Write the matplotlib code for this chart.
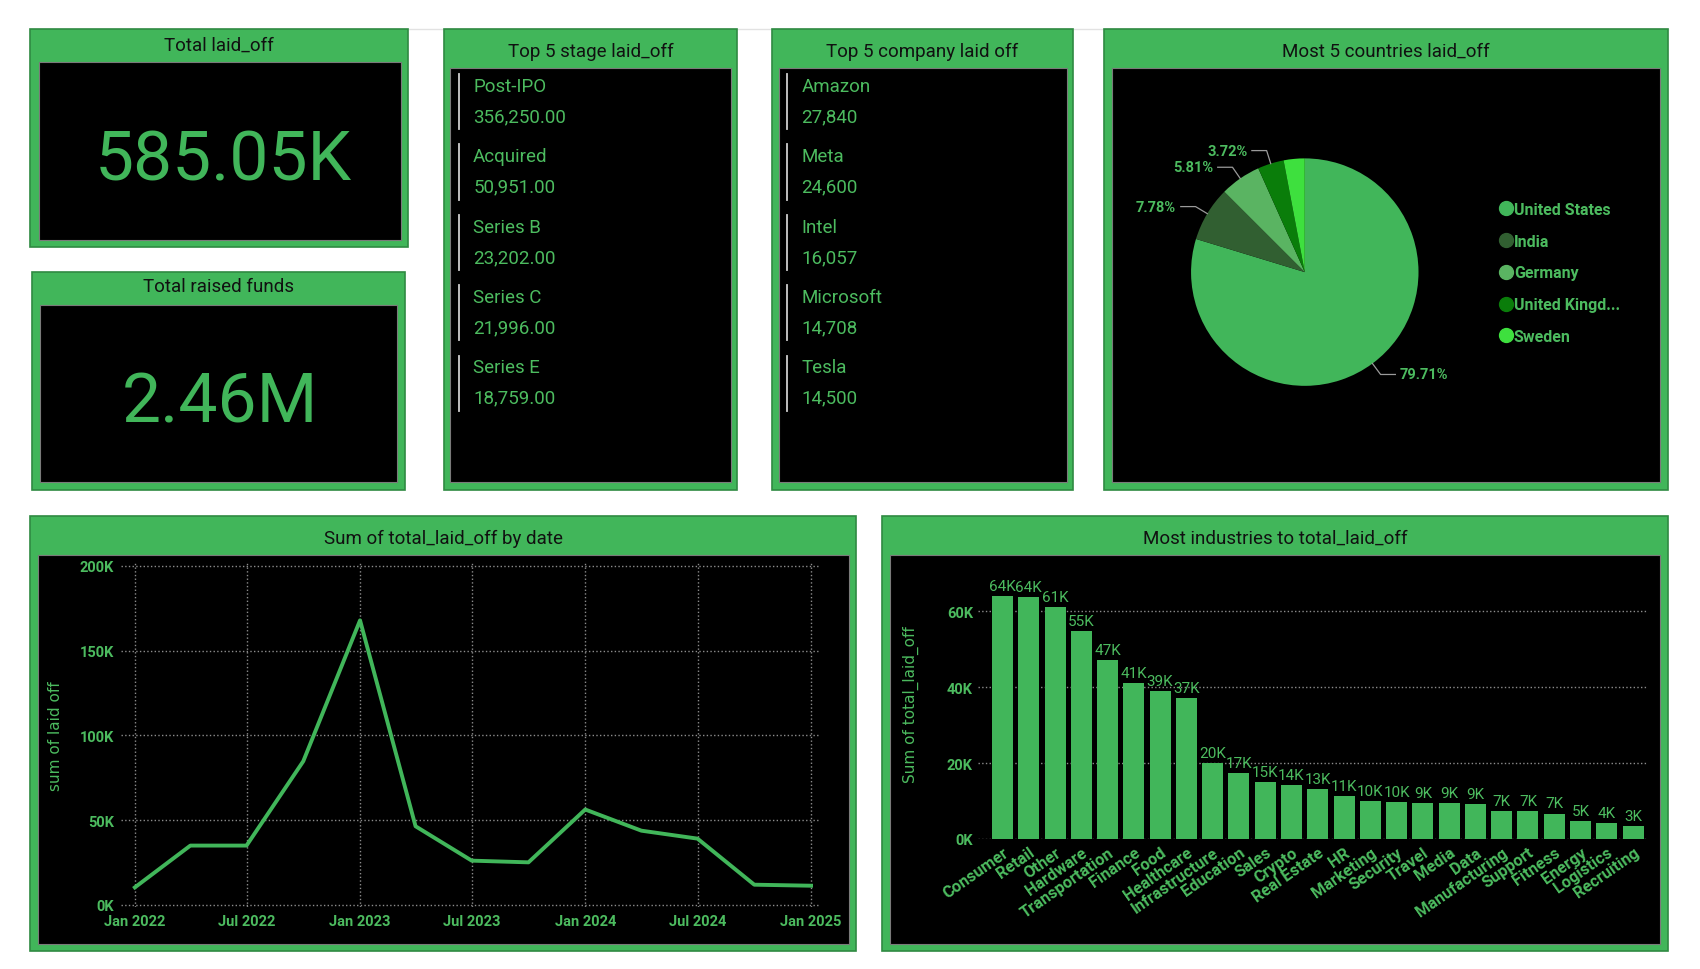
import matplotlib
matplotlib.use('Agg')
import matplotlib.pyplot as plt
from matplotlib.patches import Rectangle
from matplotlib.lines import Line2D
import matplotlib.dates as mdates
import numpy as np

# ── style ──
plt.rcParams['font.family'] = ['Roboto', 'DejaVu Sans']

GREEN = '#41B65A'
TXT = '#4CBB5F'
GRID = '#8c8c8c'
EDGE = '#2f8a42'

# ── data ──
total_laid_off = '585.05K'
total_raised = '2.46M'

stages = ['Post-IPO', 'Acquired', 'Series B', 'Series C', 'Series E']
stage_vals = [356250.00, 50951.00, 23202.00, 21996.00, 18759.00]

companies = ['Amazon', 'Meta', 'Intel', 'Microsoft', 'Tesla']
company_vals = [27840, 24600, 16057, 14708, 14500]

countries = ['United States', 'India', 'Germany', 'United Kingd...', 'Sweden']
country_pct = [79.71, 7.78, 5.81, 3.72, 2.98]
country_colors = ['#41B65A', '#315F31', '#5AB462', '#0A7D0A', '#3EE03E']

dates = ['2022-01-01', '2022-04-01', '2022-07-01', '2022-10-01',
         '2023-01-01', '2023-04-01', '2023-07-01', '2023-10-01',
         '2024-01-01', '2024-04-01', '2024-07-01', '2024-10-01',
         '2025-01-01']
laid_off_k = [10.2, 34.9, 34.9, 84.7, 167.9, 46.3, 26.0, 25.0,
              56.2, 43.7, 39.0, 11.8, 11.2]

industries = ['Consumer', 'Retail', 'Other', 'Hardware', 'Transportation',
              'Finance', 'Food', 'Healthcare', 'Infrastructure', 'Education',
              'Sales', 'Crypto', 'Real Estate', 'HR', 'Marketing', 'Security',
              'Travel', 'Media', 'Data', 'Manufacturing', 'Support', 'Fitness',
              'Energy', 'Logistics', 'Recruiting']
industry_k = [63.9, 63.8, 61.1, 54.7, 47.2, 41.2, 39.0, 37.2, 20.1, 17.4,
              15.1, 14.3, 13.2, 11.3, 9.9, 9.8, 9.4, 9.4, 9.2, 7.4, 7.3,
              6.7, 4.6, 4.2, 3.3]

# layout grid (reference measured on a ~1570 x 895 canvas)
W, H = 1570, 895


def fx(x):
    return x / W


def fy(y):
    return 1 - y / H


def rect(x0, y0, x1, y1):
    return [fx(x0), fy(y1), (x1 - x0) / W, (y1 - y0) / H]


fig = plt.figure(figsize=(17, 9.7), dpi=100, facecolor='white')


def panel(outer, inner, title, ty):
    x0, y0, x1, y1 = outer
    fig.add_artist(Rectangle((fx(x0), fy(y1)), (x1 - x0) / W, (y1 - y0) / H,
                             transform=fig.transFigure, facecolor=GREEN,
                             edgecolor=EDGE, lw=1.2, zorder=-3))
    a0, b0, a1, b1 = inner
    fig.add_artist(Rectangle((fx(a0), fy(b1)), (a1 - a0) / W, (b1 - b0) / H,
                             transform=fig.transFigure, facecolor='black',
                             edgecolor='#7a7a7a', lw=0.8, zorder=-2))
    fig.text(fx((x0 + x1) / 2), fy(ty), title, ha='center', va='center',
             fontsize=13.5, color='#111111')


# faint top line
fig.add_artist(Line2D([fx(377), fx(1540)], [fy(28), fy(28)],
                      transform=fig.transFigure, color='#e2e2e2', lw=1,
                      zorder=-4))

# ── cards ──
panel((28, 28, 377, 229), (36, 58, 370, 222), 'Total laid_off', 42)
fig.text(fx(206), fy(149), total_laid_off, ha='center', va='center',
         fontsize=50, color=GREEN)

panel((30, 252, 374, 453), (37, 282, 367, 446), 'Total raised funds', 265)
fig.text(fx(203), fy(372), total_raised, ha='center', va='center',
         fontsize=50, color=GREEN)


# ── list cards ──
def list_panel(outer, inner, title, names, vals, fmt):
    panel(outer, inner, title, 48)
    lx = inner[0] + 8
    for i, (n, v) in enumerate(zip(names, vals)):
        top = 80 + i * 65
        fig.add_artist(Line2D([fx(lx), fx(lx)], [fy(top - 11), fy(top + 40)],
                              transform=fig.transFigure, color='#cfcfcf', lw=1.3))
        fig.text(fx(lx + 13), fy(top), n, ha='left', va='center',
                 fontsize=13.5, color=TXT)
        fig.text(fx(lx + 13), fy(top + 28), fmt.format(v), ha='left',
                 va='center', fontsize=13.5, color=TXT)


list_panel((410, 28, 681, 453), (416, 64, 675, 446), 'Top 5 stage laid_off',
           stages, stage_vals, '{:,.2f}')
list_panel((713, 28, 991, 453), (719, 64, 985, 446), 'Top 5 company laid off',
           companies, company_vals, '{:,}')

# ── pie ──
panel((1020, 28, 1540, 453), (1027, 64, 1533, 446), 'Most 5 countries laid_off', 48)
pax = fig.add_axes(rect(1040, 87, 1370, 417))
pax.set_facecolor('none')
wedges, _ = pax.pie(country_pct, colors=country_colors, startangle=90,
                    counterclock=False, radius=1,
                    wedgeprops=dict(linewidth=0))
pax.set_xlim(-1.571, 1.571)
pax.set_ylim(-1.571, 1.571)
pax.set_aspect('equal')
pax.axis('off')
for w, p in zip(wedges, country_pct):
    if p < 3.5:
        continue
    ang = np.deg2rad((w.theta1 + w.theta2) / 2)
    x1, y1 = np.cos(ang), np.sin(ang)
    x2, y2 = 1.12 * x1, 1.12 * y1
    side = 1 if x1 > 0 else -1
    x3 = x2 + side * 0.13
    pax.plot([x1, x2, x3], [y1, y2, y2], color='#9a9a9a', lw=0.9)
    pax.text(x3 + side * 0.04, y2, f'{p:.2f}%', ha='left' if side > 0 else 'right',
             va='center', fontsize=10.5, fontweight='bold', color=TXT)

handles = [Line2D([], [], marker='o', ls='', markersize=10, markerfacecolor=c,
                  markeredgecolor=c) for c in country_colors]
fig.legend(handles, countries, loc='upper left',
           bbox_to_anchor=(fx(1370), fy(174)), frameon=False,
           labelcolor=TXT, prop={'weight': 'bold', 'size': 11.5},
           handletextpad=0.0, labelspacing=1.05, handlelength=1.0)

# ── line chart ──
panel((28, 477, 791, 878), (35, 513, 784, 872), 'Sum of total_laid_off by date', 497)
lax = fig.add_axes(rect(112, 520, 757, 838))
lax.set_facecolor('black')
d = np.array(dates, dtype='datetime64[D]')
lax.plot(d, laid_off_k, color=GREEN, lw=2.8)
lax.set_xlim(np.datetime64('2021-12-10'), np.datetime64('2025-01-15'))
lax.set_ylim(-1.5, 202)
lax.set_yticks([0, 50, 100, 150, 200])
lax.set_yticklabels(['0K', '50K', '100K', '150K', '200K'])
xt = np.array(['2022-01-01', '2022-07-01', '2023-01-01', '2023-07-01',
               '2024-01-01', '2024-07-01', '2025-01-01'], dtype='datetime64[D]')
lax.set_xticks(xt)
lax.xaxis.set_major_formatter(mdates.DateFormatter('%b %Y'))
lax.grid(True, color=GRID, ls=':', lw=1)
lax.set_axisbelow(True)
for s in lax.spines.values():
    s.set_visible(False)
lax.tick_params(length=0, colors=TXT, labelsize=10.5, pad=5)
for t in lax.get_xticklabels() + lax.get_yticklabels():
    t.set_fontweight('bold')
lax.set_ylabel('sum of laid off', color=TXT, fontsize=11,
               family='DejaVu Sans', labelpad=12)

# ── bar chart ──
panel((815, 477, 1540, 878), (822, 513, 1533, 872), 'Most industries to total_laid_off', 497)
bax = fig.add_axes(rect(903, 525, 1522, 775))
bax.set_facecolor('black')
x = np.arange(len(industries))
bax.bar(x, industry_k, 0.8, color=GREEN)
for xi, v in zip(x, industry_k):
    bax.text(xi, v + 0.8, f'{v:.0f}K', ha='center', va='bottom',
             fontsize=11, color=TXT)
bax.set_xlim(-0.94, 24.57)
bax.set_ylim(0, 71.4)
bax.set_yticks([0, 20, 40, 60])
bax.set_yticklabels(['0K', '20K', '40K', '60K'])
bax.set_xticks(x)
bax.set_xticklabels(industries, rotation=35, ha='right', rotation_mode='anchor')
bax.grid(axis='y', color=GRID, ls=':', lw=1)
bax.set_axisbelow(True)
for s in bax.spines.values():
    s.set_visible(False)
bax.tick_params(length=0, colors=TXT, labelsize=10.5)
bax.tick_params(axis='x', pad=4, labelsize=11.8)
for t in bax.get_xticklabels() + bax.get_yticklabels():
    t.set_fontweight('bold')
bax.set_ylabel('Sum of total_laid_off', color=TXT, fontsize=11,
               family='DejaVu Sans', labelpad=20)

fig.savefig('out.png', dpi=100, facecolor='white')
